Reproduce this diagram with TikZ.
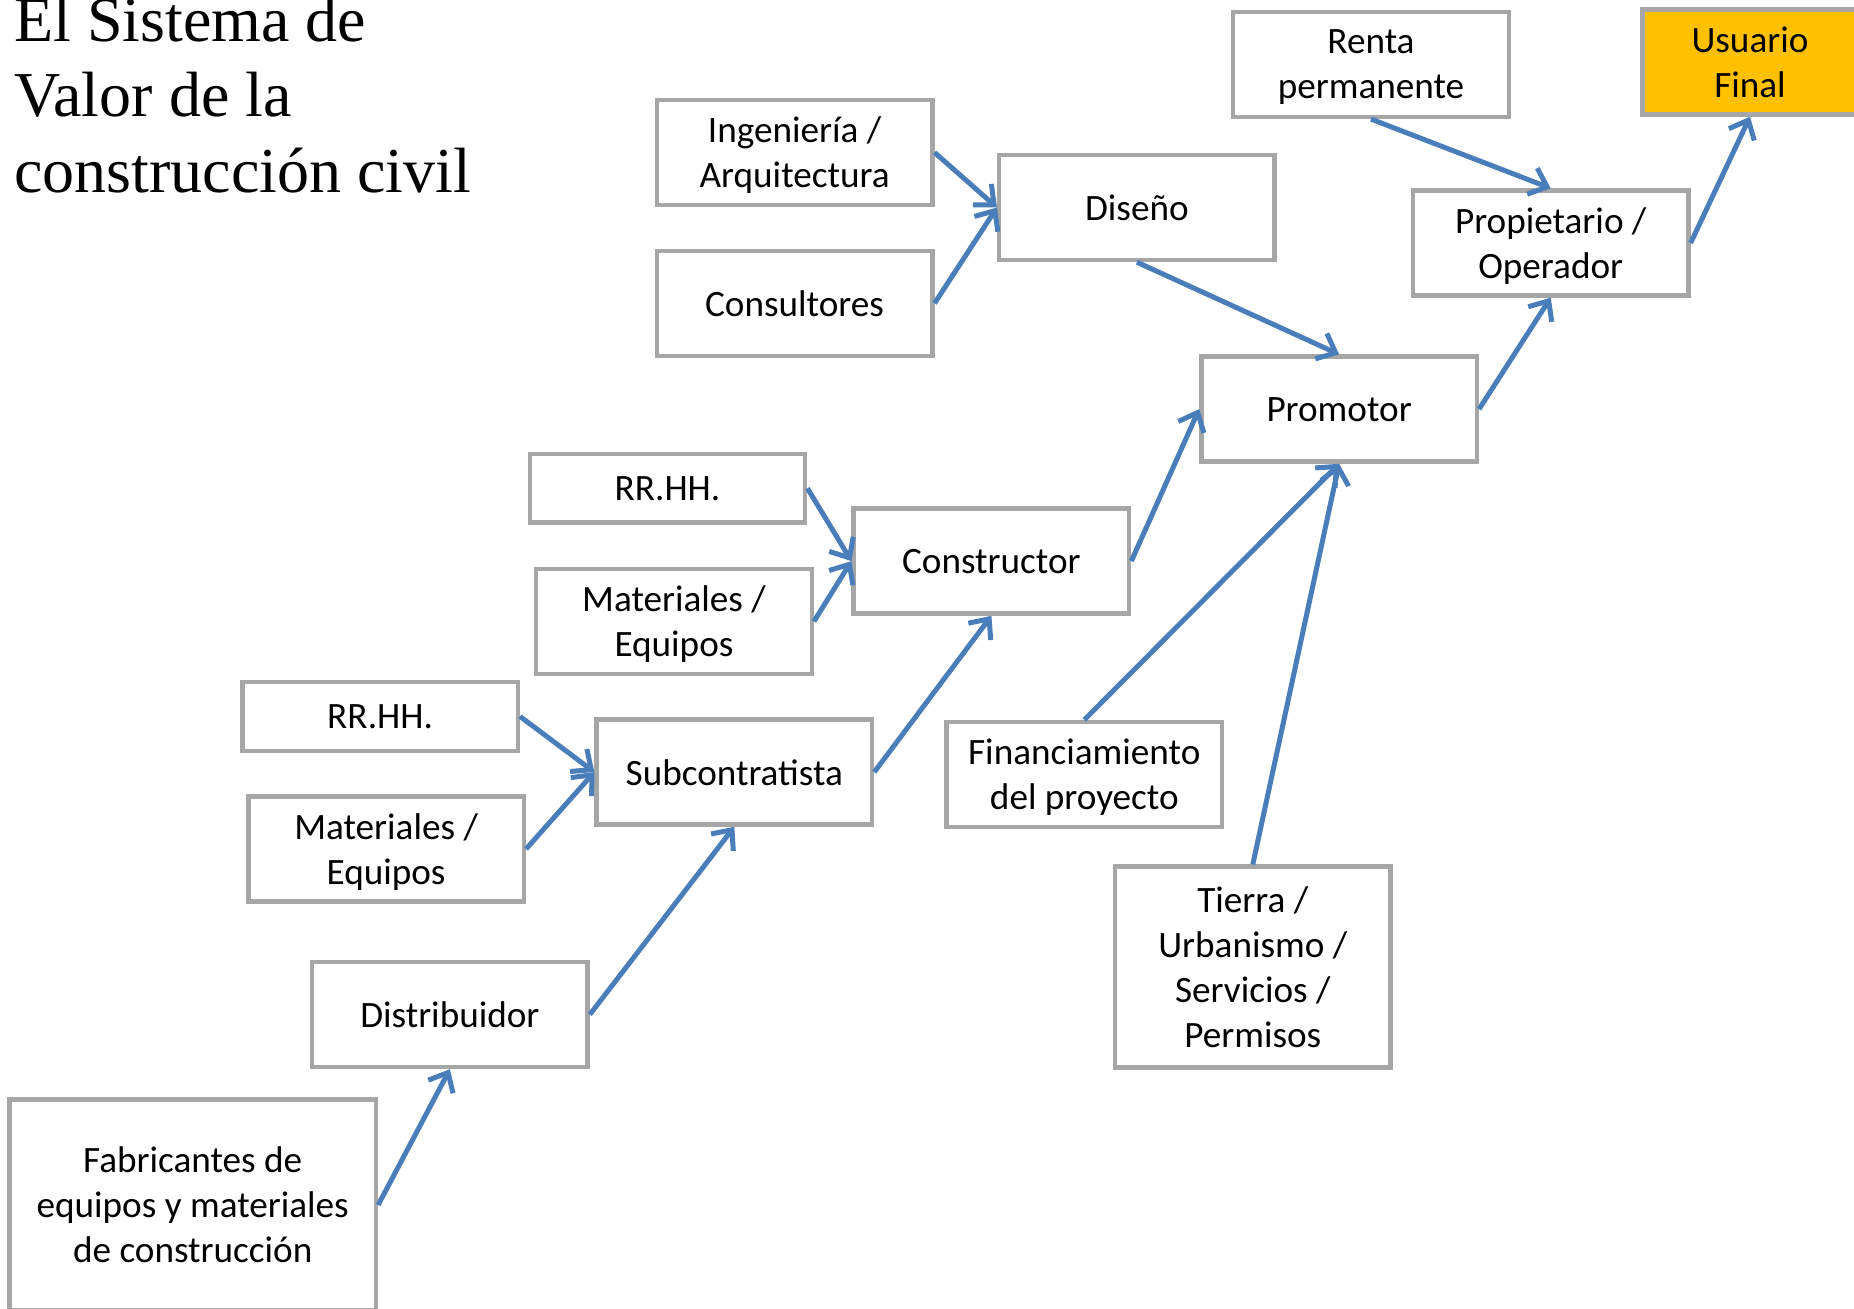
\documentclass[tikz,border=0pt]{standalone}
\usepackage{fontspec}
\setmainfont{Carlito}
\newfontfamily\titulofont{Liberation Serif}
\usetikzlibrary{arrows.meta}
\definecolor{grisborde}{HTML}{A6A6A6}
\definecolor{azulflecha}{HTML}{4A7EBB}
\definecolor{ambar}{HTML}{FFC000}
\tikzset{
	caja/.style={draw=grisborde, line width=2.2pt, fill=white, minimum width=137.75pt,
		minimum height=52.5pt, align=center, inner sep=2pt, text depth=0pt,
		font=\fontsize{18.6}{22.5}\selectfont},
	flecha/.style={draw=azulflecha, line width=2.5pt, -{Straight Barb[length=8pt,width=14pt]}}
}

\begin{document}
\begin{tikzpicture}[x=0.5pt,y=-0.5pt]
	 \clip (0,0) rectangle (1854,1309);
	 % titulo
	 \draw (14,-3) node[anchor=north west, inner sep=0pt, align=left,
	 			font=\titulofont\fontsize{32}{37.6}\selectfont](titulo)
	 			{El Sistema de\\Valor de la\\construcción civil};

	 % cajas
	 \draw (1371,64.4) node[caja](renta) {Renta\\permanente};
	 \draw (1750,62) node[caja, fill=ambar, minimum width=107.5pt](usuario) {Usuario\\Final};
	 \draw (794.6,152.5) node[caja](ingenieria) {Ingeniería /\\Arquitectura};
	 \draw (794.6,303.3) node[caja](consultores) {Consultores};
	 \draw (1136.9,207.5) node[caja](diseno) {Diseño};
	 \draw (1550.7,243) node[caja](propietario) {Propietario /\\Operador};
	 \draw (1339.1,409.1) node[caja](promotor) {Promotor};
	 \draw (667.5,488.3) node[caja, minimum height=34.3pt](rrhhA) {RR.HH.};
	 \draw (991.4,561.1) node[caja](constructor) {Constructor};
	 \draw (674,621.4) node[caja](materialesA) {Materiales /\\Equipos};
	 \draw (380.1,716.5) node[caja, minimum height=34.3pt](rrhhB) {RR.HH.};
	 \draw (734.3,772.1) node[caja](subcontratista) {Subcontratista};
	 \draw (1084.3,774.5) node[caja](financiamiento) {Financiamiento\\del proyecto};
	 \draw (386.1,849) node[caja](materialesB) {Materiales /\\Equipos};
	 \draw (1252.8,967.2) node[caja, minimum height=100.5pt](tierra)
	 			{Tierra /\\Urbanismo /\\Servicios /\\Permisos};
	 \draw (449.9,1014.5) node[caja](distribuidor) {Distribuidor};
	 \draw (192.7,1205) node[caja, minimum width=183.25pt, minimum height=105.5pt](fabricantes)
	 			{Fabricantes de\\equipos y materiales\\de construcción};

	 % flechas
	 \draw [flecha] (ingenieria.east) -- (diseno.west);
	 \draw [flecha] (consultores.east) -- (diseno.west);
	 \draw [flecha] (diseno.south) -- (promotor.north);
	 \draw [flecha] (renta.south) -- (propietario.north);
	 \draw [flecha] (propietario.east) -- (usuario.south);
	 \draw [flecha] (promotor.east) -- (propietario.south);
	 \draw [flecha] (constructor.east) -- (promotor.west);
	 \draw [flecha] (rrhhA.east) -- (constructor.west);
	 \draw [flecha] (materialesA.east) -- (constructor.west);
	 \draw [flecha] (subcontratista.east) -- (constructor.south);
	 \draw [flecha] (financiamiento.north) -- (promotor.south);
	 \draw [flecha] (tierra.north) -- (promotor.south);
	 \draw [flecha] (rrhhB.east) -- (subcontratista.west);
	 \draw [flecha] (materialesB.east) -- (subcontratista.west);
	 \draw [flecha] (distribuidor.east) -- (subcontratista.south);
	 \draw [flecha] (fabricantes.east) -- (distribuidor.south);
\end{tikzpicture}
\end{document}
